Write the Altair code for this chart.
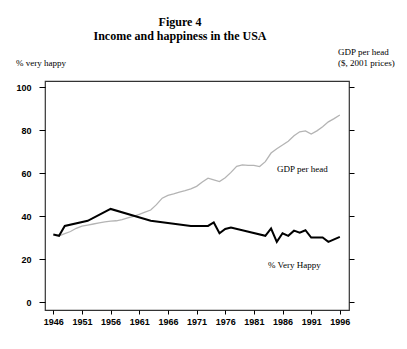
import altair as alt
import pandas as pd

# % very happy (survey years)
happy_years = [1946, 1947, 1948, 1952, 1956, 1963, 1966, 1970, 1973, 1974, 1975, 1976, 1977,
               1983, 1984, 1985, 1986, 1987, 1988, 1989, 1990, 1991, 1993, 1994, 1996]
happy_vals = [31.6, 31.0, 35.6, 38.0, 43.5, 38.0, 37.0, 35.6, 35.6, 37.2, 32.2, 34.2, 34.8,
              31.0, 34.4, 28.2, 32.2, 31.0, 33.4, 32.5, 33.6, 30.2, 30.2, 28.2, 30.5]

# GDP per head (drawn on the same visual scale as the left axis)
gdp_years = list(range(1947, 1997))
gdp_vals = [31.0, 32.0, 33.0, 34.5, 35.5, 36.0, 36.5, 37.0, 37.5, 37.8,
            38.0, 38.5, 39.3, 40.0, 41.0, 42.0, 43.0, 45.5, 48.5, 49.8,
            50.5, 51.3, 52.0, 52.8, 54.0, 56.0, 57.8, 57.0, 56.2, 58.0,
            60.5, 63.3, 64.0, 63.8, 63.8, 63.2, 65.5, 69.5, 71.5, 73.2,
            75.0, 77.5, 79.4, 79.8, 78.3, 79.8, 81.7, 84.0, 85.5, 87.2]

x_ticks = [1946, 1951, 1956, 1961, 1966, 1971, 1976, 1981, 1986, 1991, 1996]
y_ticks = [0, 20, 40, 60, 80, 100]

happy_df = pd.DataFrame({"year": happy_years, "value": happy_vals})
gdp_df = pd.DataFrame({"year": gdp_years, "value": gdp_vals})

xscale = alt.Scale(domain=[1944.55, 1997.6], nice=False, zero=False)
yscale = alt.Scale(domain=[-3.5, 103], nice=False, zero=False)

xaxis = alt.Axis(values=x_ticks, format="d", title=None, grid=False, domain=False,
                 tickColor="black", tickSize=4, labelFont="Liberation Sans",
                 labelFontWeight="bold", labelFontSize=9, labelColor="black",
                 labelPadding=3, labelFlush=False)
yaxis_left = alt.Axis(values=y_ticks, title=None, grid=False, domain=False,
                      tickColor="black", tickSize=6, labelFont="Liberation Sans",
                      labelFontWeight="bold", labelFontSize=9, labelColor="black",
                      labelPadding=8)
yaxis_right = alt.Axis(values=y_ticks, title=None, grid=False, domain=False, orient="right",
                       tickColor="black", tickSize=5, labels=False)

gdp_line = alt.Chart(gdp_df).mark_line(color="#b4b4b4", strokeWidth=1.3).encode(
    x=alt.X("year:Q", scale=xscale, axis=xaxis),
    y=alt.Y("value:Q", scale=yscale, axis=yaxis_right),
)

happy_line = alt.Chart(happy_df).mark_line(color="black", strokeWidth=2).encode(
    x=alt.X("year:Q", scale=xscale, axis=xaxis),
    y=alt.Y("value:Q", scale=yscale, axis=yaxis_left),
)

def label(text, x, y, size=9, weight="normal", align="left"):
    return alt.Chart(pd.DataFrame({"t": [text]})).mark_text(
        font="Liberation Serif", fontSize=size, fontWeight=weight, align=align,
        baseline="middle", color="black", clip=False
    ).encode(text="t:N", x=alt.value(x), y=alt.value(y))

texts = [
    label("Figure 4", 135, -59, size=12, weight="bold", align="center"),
    label("Income and happiness in the USA", 135, -45, size=12, weight="bold", align="center"),
    label("% very happy", -29, -18),
    label("GDP per head", 293, -29),
    label("($, 2001 prices)", 293, -18),
    label("GDP per head", 232, 88),
    label("% Very Happy", 223, 184),
]

chart = alt.layer(gdp_line, happy_line, *texts).resolve_scale(y="independent").properties(
    width=304, height=229,
    autosize=alt.AutoSizeParams(type="none"),
    padding={"left": 45, "top": 81, "right": 58, "bottom": 39},
    background="white",
).configure_view(stroke="#333333", strokeWidth=1.2)

chart.save("out.html", embed_options={"renderer": "svg", "actions": False})
